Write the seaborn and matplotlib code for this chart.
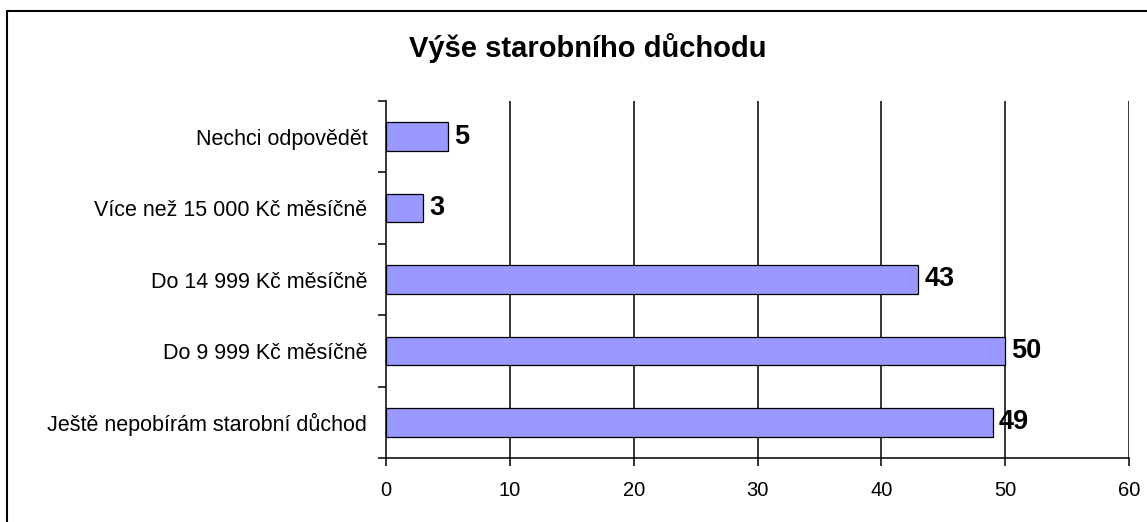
import matplotlib
matplotlib.use("Agg")
import matplotlib.pyplot as plt
import seaborn as sns
import pandas as pd
import numpy as np
from matplotlib.lines import Line2D
from matplotlib.ticker import FixedLocator

categories = ["Nechci odpovědět", "Více než 15 000 Kč měsíčně", "Do 14 999 Kč měsíčně",
              "Do 9 999 Kč měsíčně", "Ještě nepobírám starobní důchod"]
values = [5, 3, 43, 50, 49]
x_ticks = [0, 10, 20, 30, 40, 50, 60]
title = "Výše starobního důchodu"

sns.set_theme(style="white")
plt.rcParams['font.family'] = ['Liberation Sans', 'DejaVu Sans']

W, H = 1147, 522
df = pd.DataFrame({"cat": categories, "val": values})
fig = plt.figure(figsize=(W / 100, H / 100), dpi=100)
ax = fig.add_axes([386 / W, 1 - 458 / H, (1129 - 386) / W, (458 - 101) / H])

sns.barplot(data=df, x="val", y="cat", orient="h", color="#9999FF", width=0.4,
            edgecolor="black", linewidth=0.9, saturation=1, ax=ax)

ax.set_xlim(0, 60)
ax.set_ylim(4.5, -0.5)
ax.set_xticks(x_ticks)
ax.set_xticklabels([str(t) for t in x_ticks], fontsize=14.5)
ax.set_xlabel("")
ax.set_ylabel("")
ax.tick_params(axis="y", which="major", length=0, labelsize=15.5, pad=13.5)
ax.yaxis.set_minor_locator(FixedLocator(np.arange(-0.5, 5, 1)))
ax.tick_params(axis="y", which="minor", length=5.5, width=1.1, color="black", direction="out", left=True)
ax.tick_params(axis="x", which="major", length=5.5, width=1.1, color="black", direction="out",
               bottom=True, pad=11)
for t in ax.get_yticklabels() + ax.get_xticklabels():
    t.set_color("black")

ax.grid(False)
for x in x_ticks[1:]:
    ax.axvline(x, color="black", linewidth=1.1, zorder=0)

for s in ["top", "right"]:
    ax.spines[s].set_visible(False)
for s in ["left", "bottom"]:
    ax.spines[s].set_color("black")
    ax.spines[s].set_linewidth(1.1)

for i, v in enumerate(values):
    ax.text(v + 0.5, i, str(v), va="center", ha="left", fontsize=19.5, fontweight="bold", color="black")

fig.text(588 / W, 1 - 48 / H, title, ha="center", va="center",
         fontsize=21, fontweight="bold", color="black")

# chart frame: only the left and top edges fall inside the image
fig.lines.append(Line2D([7.5 / W, 7.5 / W], [0, 1 - 10.5 / H], transform=fig.transFigure,
                        color="black", linewidth=1.5))
fig.lines.append(Line2D([7.5 / W, 1], [1 - 10.5 / H, 1 - 10.5 / H], transform=fig.transFigure,
                        color="black", linewidth=1.5))

fig.savefig("out.png", dpi=100, facecolor="white")
